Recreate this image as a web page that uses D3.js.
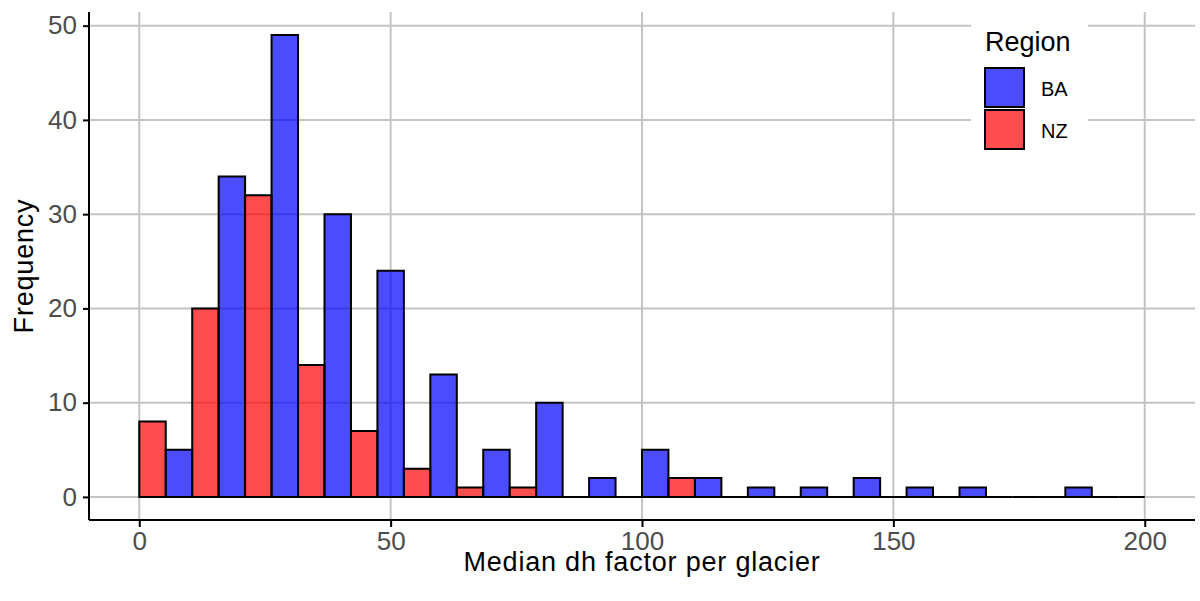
<!DOCTYPE html>
<html><head><meta charset="utf-8">
<script src="https://cdn.jsdelivr.net/npm/d3@7"></script>
<style>
html,body{margin:0;padding:0;background:#fff;}
text{font-family:"Liberation Sans",Arial,sans-serif;}
</style></head>
<body><svg id="chart" width="1200" height="601"></svg>
<script>
// bin edges (19 bins over 0..200)
const binEdges = [0, 10.53, 21.05, 31.58, 42.11, 52.63, 63.16, 73.68, 84.21, 94.74, 105.26, 115.79, 126.32, 136.84, 147.37, 157.89, 168.42, 178.95, 189.47, 200];
const regions = ["BA", "NZ"];
const countsBA = [5, 34, 49, 30, 24, 13, 5, 10, 2, 5, 2, 1, 1, 2, 1, 1, 0, 1, 0];
const countsNZ = [8, 20, 32, 14, 7, 3, 1, 1, 0, 0, 2, 0, 0, 0, 0, 0, 0, 0, 0];
const xTicks = [0, 50, 100, 150, 200];
const yTicks = [0, 10, 20, 30, 40, 50];
const colors = {BA: "#0000FF", NZ: "#FF0000"};

const svg = d3.select("#chart");
const L = 89, R = 1195, T = 12, B = 520;
const x = d3.scaleLinear().domain([-10, 210]).range([L, R]);
const y = d3.scaleLinear().domain([-2.45, 51.45]).range([B, T]);

// grid
const grid = svg.append("g");
grid.selectAll("line.gx").data(xTicks).join("line")
  .attr("x1", d => x(d)).attr("x2", d => x(d)).attr("y1", T).attr("y2", B)
  .attr("stroke", "#c4c4c4").attr("stroke-width", 2);
grid.selectAll("line.gy").data(yTicks).join("line")
  .attr("x1", L).attr("x2", R).attr("y1", d => y(d)).attr("y2", d => y(d))
  .attr("stroke", "#c4c4c4").attr("stroke-width", 2);

// bars: NZ left half, BA right half of each bin
const bars = [];
for (let i = 0; i < binEdges.length - 1; i++) {
  const a = binEdges[i], b = binEdges[i + 1], m = (a + b) / 2;
  bars.push({r: "NZ", x0: a, x1: m, v: countsNZ[i]});
  bars.push({r: "BA", x0: m, x1: b, v: countsBA[i]});
}
svg.append("g").selectAll("path").data(bars).join("path")
  .attr("d", d => `M${x(d.x0)},${y(0)}V${y(d.v)}H${x(d.x1)}V${y(0)}Z`)
  .attr("fill", d => colors[d.r]).attr("fill-opacity", 0.7)
  .attr("stroke", "#000").attr("stroke-width", 2).attr("stroke-linejoin", "miter");

// axes
const xAxis = svg.append("g").attr("transform", `translate(0,${B})`)
  .call(d3.axisBottom(x).tickValues(xTicks).tickSize(7).tickPadding(5));
const yAxis = svg.append("g").attr("transform", `translate(${L},0)`)
  .call(d3.axisLeft(y).tickValues(yTicks).tickSize(6).tickPadding(6));
[xAxis, yAxis].forEach(g => {
  g.select(".domain").attr("stroke", "#000").attr("stroke-width", 2);
  g.selectAll(".tick line").attr("stroke", "#000").attr("stroke-width", 2);
  g.selectAll(".tick text").attr("fill", "#4d4d4d").style("font-size", "26px")
    .style("font-family", '"Liberation Sans",Arial,sans-serif');
});
xAxis.select(".domain").attr("d", `M${L},0H${R}`);
yAxis.select(".domain").attr("d", `M0,${T}V${B}`);

// titles
svg.append("text").attr("x", (L + R) / 2).attr("y", 571).attr("text-anchor", "middle")
  .style("font-size", "27px").style("letter-spacing", "0.8px").attr("fill", "#000").text("Median dh factor per glacier");
svg.append("text").attr("transform", `translate(33,${(T + B) / 2}) rotate(-90)`).attr("text-anchor", "middle")
  .style("font-size", "27px").style("letter-spacing", "0.8px").attr("fill", "#000").text("Frequency");

// legend
const lg = svg.append("g");
lg.append("rect").attr("x", 971).attr("y", 14).attr("width", 117).attr("height", 150).attr("fill", "#fff");
lg.append("text").attr("x", 985).attr("y", 51).style("font-size", "27px").attr("fill", "#000").text("Region");
regions.forEach((r, i) => {
  lg.append("rect").attr("x", 985).attr("y", 68 + i * 42).attr("width", 39).attr("height", 39)
    .attr("fill", colors[r]).attr("fill-opacity", 0.7).attr("stroke", "#000").attr("stroke-width", 2);
  lg.append("text").attr("x", 1041).attr("y", 96 + i * 42).style("font-size", "20px").attr("fill", "#000").text(r);
});
</script></body></html>
